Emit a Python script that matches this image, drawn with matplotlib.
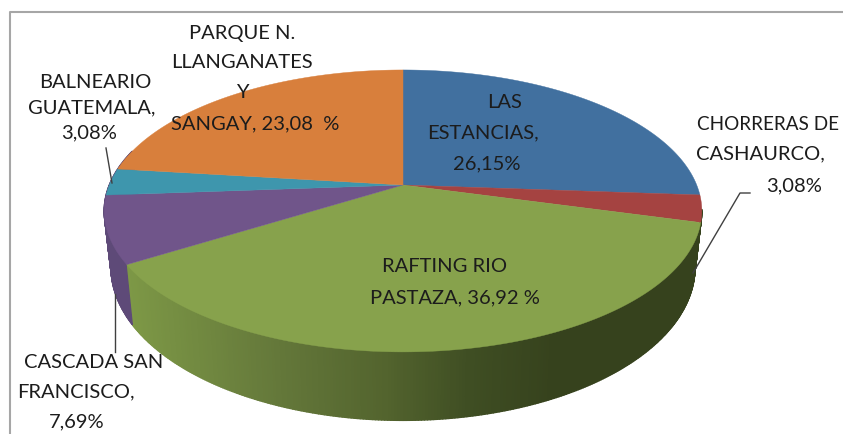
import numpy as np
import matplotlib
matplotlib.use('Agg')
import matplotlib.pyplot as plt
from matplotlib.collections import PolyCollection
from matplotlib.colors import LinearSegmentedColormap

plt.rcParams['font.family'] = ['Lato', 'DejaVu Sans']

# slices, clockwise from 12 o'clock
places = ['LAS ESTANCIAS', 'CHORRERAS DE CASHAURCO', 'RAFTING RIO PASTAZA',
          'CASCADA SAN FRANCISCO', 'BALNEARIO GUATEMALA', 'PARQUE N. LLANGANATES Y SANGAY']
shares = [26.15, 3.08, 36.92, 7.69, 3.08, 23.08]
colors = ['#41709f', '#a54341', '#87a24c', '#70558a', '#3e96ad', '#d87f3c']

# label lines: text, x, y
label_lines = [
    ('LAS', 505, 103), ('ESTANCIAS,', 483, 133), ('26,15%', 487, 164),
    ('CHORRERAS DE', 768, 124), ('CASHAURCO,', 760, 154), ('3,08%', 794, 186),
    ('RAFTING RIO', 445, 267), ('PASTAZA, 36,92 %', 455, 298),
    ('CASCADA SAN', 94, 362), ('FRANCISCO,', 76, 392), ('7,69%', 77, 422),
    ('BALNEARIO', 95, 82), ('GUATEMALA,', 92, 108), ('3,08%', 89, 133),
    ('PARQUE N.', 242, 34), ('LLANGANATES', 242, 62), ('Y', 242, 92), ('SANGAY, 23,08  %', 255, 124),
]

CX = 403
PERSP = -0.184


def disk_point(theta, kx, ky, y0):
    # circle seen in perspective, theta clockwise from the back
    u = np.sin(theta)
    v = -np.cos(theta)
    d = 1 + PERSP * v
    return CX + kx * u / d, y0 + ky * v / d


def top_point(theta):
    return disk_point(theta, 293.7, 136.2, 185)


def bottom_point(theta):
    return disk_point(theta, 287, 148, 239)


fig = plt.figure(figsize=(8.43, 4.34), dpi=100)
ax = fig.add_axes([0, 0, 1, 1])
ax.set_xlim(0, 843)
ax.set_ylim(434, 0)
ax.axis('off')

# chart frame
ax.plot([10, 10, 843], [434, 12, 12], color='#a6a6a6', lw=1.5, zorder=1)

edges = np.radians(np.cumsum([0] + shares) * 3.6)

# side wall, cut in thin strips so it can be shaded
green_side = LinearSegmentedColormap.from_list('side', [
    (0.0, '#7d9846'), (0.35, '#64783a'), (0.6, '#53642e'),
    (0.8, '#3f4e23'), (1.0, '#36421d')])
polys = []
poly_colors = []
for theta in np.radians(np.arange(100, 285, 0.5)):
    t = np.array([theta, theta + np.radians(0.5)])
    xt, yt = top_point(t)
    xb, yb = bottom_point(t)
    polys.append(list(zip(xt, yt)) + list(zip(xb[::-1], yb[::-1])))
    if theta < edges[3]:
        c = green_side(np.clip((top_point(theta)[0] - 127) / 430, 0, 1))
    else:
        c = '#5e4a78'
    poly_colors.append(c)
ax.add_collection(PolyCollection(polys, facecolors=poly_colors, edgecolors=poly_colors,
                                 linewidths=1.0, zorder=2))

# top surface
for start, stop, c in zip(edges[:-1], edges[1:], colors):
    t = np.linspace(start, stop, 200)
    x, y = top_point(t)
    ax.fill(np.r_[CX, x], np.r_[185, y], color=c, lw=0.3, zorder=3)

# leader lines
ax.plot([693, 740, 750], [273, 193, 193], color='#404040', lw=1, zorder=4)
ax.plot([115, 115], [294, 352], color='#404040', lw=1, zorder=4)
ax.plot([106, 112], [148, 183], color='#404040', lw=1, zorder=4)

for line, x, y in label_lines:
    size = 13.6 if line == 'CHORRERAS DE' else 14.5  # has to fit at the right edge
    ax.text(x, y, line, ha='center', va='center', fontsize=size, color='#1c1c1c', zorder=5)

fig.savefig('out.png', dpi=100)
